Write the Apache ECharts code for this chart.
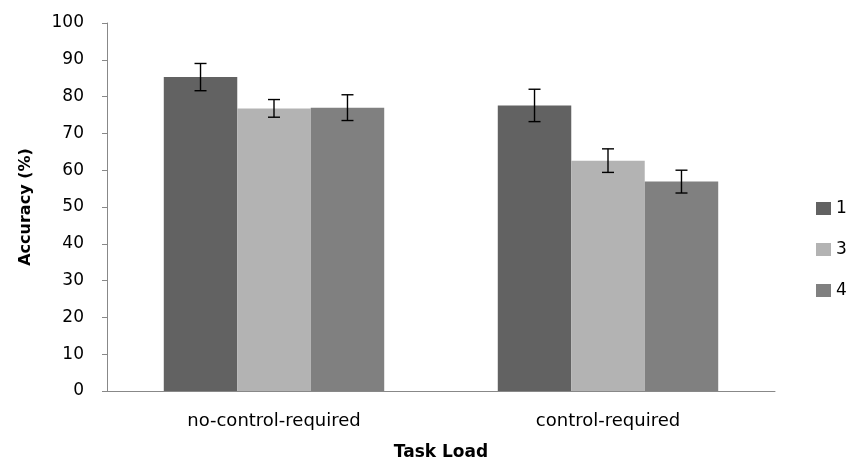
<!DOCTYPE html>
<html><head><meta charset="utf-8">
<script src="https://cdn.jsdelivr.net/npm/echarts@6/dist/echarts.min.js"></script>
<style>html,body{margin:0;padding:0;background:#fff}#c{width:847px;height:468px}</style>
</head><body><div id="c"></div>
<script>
const categories = ['no-control-required', 'control-required'];
const seriesNames = ['1', '3', '4'];
const values1 = [85.3, 77.6];
const values3 = [76.8, 62.6];
const values4 = [77.0, 56.9];
const err1 = [3.7, 4.4];
const err3 = [2.4, 3.2];
const err4 = [3.5, 3.1];
const colors = ['#626262', '#b3b3b3', '#808080'];

const vals = [values1, values3, values4];
const errs = [err1, err3, err4];
const font = '"DejaVu Sans",sans-serif';
const catGap = 0.34;

const chart = echarts.init(document.getElementById('c'));
const series = [];
vals.forEach((v, i) => {
  series.push({
    name: seriesNames[i], type: 'bar', data: v,
    barGap: '0%', barCategoryGap: (catGap * 100) + '%',
    itemStyle: { color: colors[i] }
  });
});
vals.forEach((v, i) => {
  series.push({
    type: 'custom', name: 'err' + i,
    data: v.map((m, j) => [j, m - errs[i][j], m + errs[i][j]]),
    encode: { x: 0, y: [1, 2] },
    z: 10, silent: true,
    renderItem: function (params, api) {
      const band = api.size([1, 0])[0];
      const bw = band * (1 - catGap) / 3;
      const off = (i - 1) * bw;
      const lo = api.coord([api.value(0), api.value(1)]);
      const hi = api.coord([api.value(0), api.value(2)]);
      const x = lo[0] + off;
      const cap = 6;
      const st = { stroke: '#000', lineWidth: 1.4 };
      return { type: 'group', children: [
        { type: 'line', shape: { x1: x, y1: lo[1], x2: x, y2: hi[1] }, style: st },
        { type: 'line', shape: { x1: x - cap, y1: lo[1], x2: x + cap, y2: lo[1] }, style: st },
        { type: 'line', shape: { x1: x - cap, y1: hi[1], x2: x + cap, y2: hi[1] }, style: st }
      ]};
    }
  });
});

chart.setOption({
  animation: false,
  grid: { left: 107, right: 72, top: 23, bottom: 77 },
  legend: {
    data: seriesNames, orient: 'vertical', left: 811, top: 195,
    itemWidth: 15, itemHeight: 13, itemGap: 24,
    textStyle: { fontFamily: font, fontSize: 17, color: '#000' },
    icon: 'rect'
  },
  xAxis: {
    type: 'category', data: categories,
    name: 'Task Load', nameLocation: 'middle', nameGap: 53,
    nameTextStyle: { fontFamily: font, fontSize: 17, fontWeight: 'bold', color: '#000' },
    axisLine: { lineStyle: { color: '#888', width: 1 } },
    axisTick: { show: false },
    axisLabel: { fontFamily: font, fontSize: 18, color: '#000', margin: 21 }
  },
  yAxis: {
    type: 'value', min: 0, max: 100, interval: 10,
    name: 'Accuracy (%)', nameLocation: 'middle', nameGap: 73,
    nameTextStyle: { fontFamily: font, fontSize: 16, fontWeight: 'bold', color: '#000' },
    axisLine: { show: true, lineStyle: { color: '#888', width: 1 } },
    axisTick: { show: true, length: 5, lineStyle: { color: '#888' } },
    splitLine: { show: false },
    axisLabel: { fontFamily: font, fontSize: 17, color: '#000', margin: 23 }
  },
  series: series
});
</script></body></html>
